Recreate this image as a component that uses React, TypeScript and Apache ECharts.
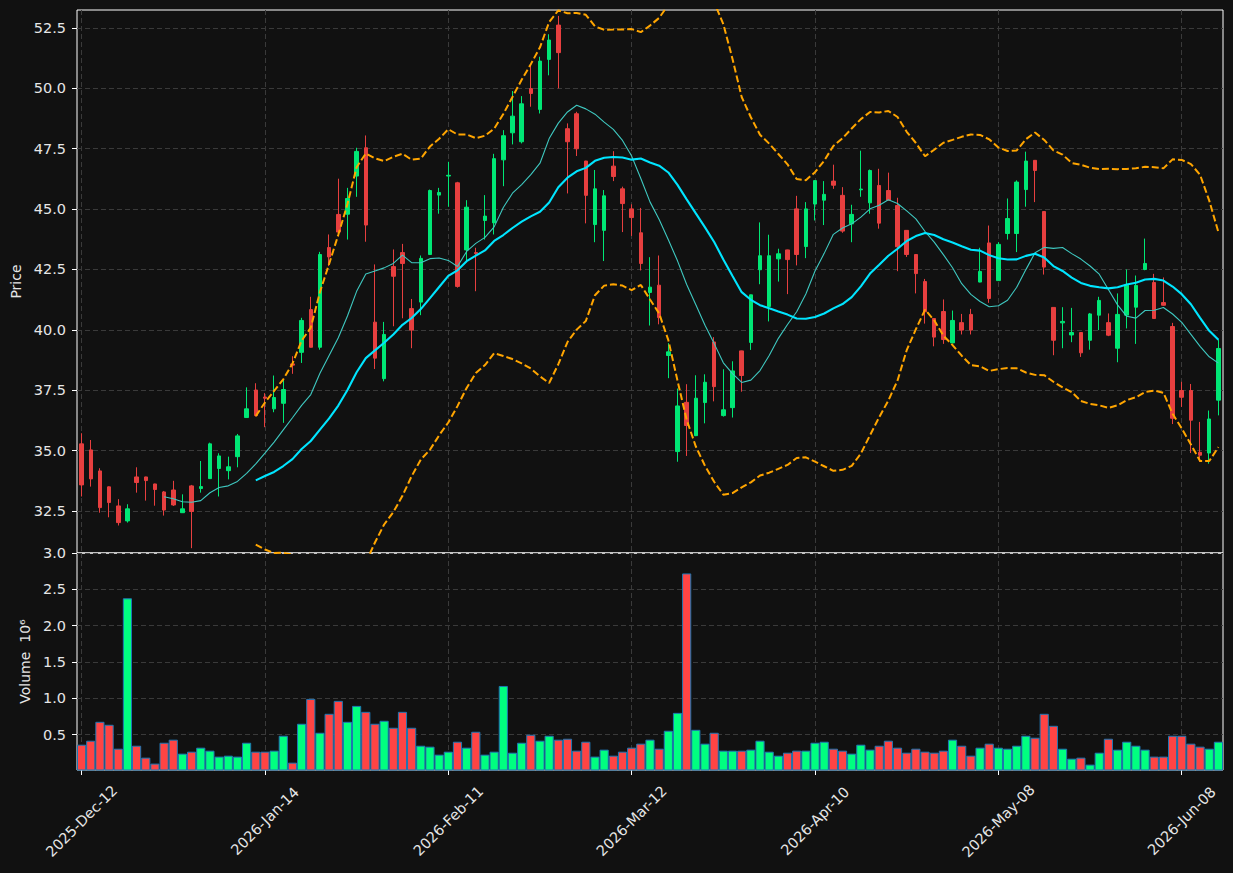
import React, { useEffect, useRef } from 'react';
import * as echarts from 'echarts';

// ---- data (prices in $, volume in millions) ----
const opens = [35.28, 35.03, 34.16, 33.50, 32.71, 32.09, 33.91, 33.91, 33.62, 33.29, 33.37, 32.43, 33.54, 33.43, 33.84, 34.26, 34.17, 34.75, 36.37, 37.51,
  37.22, 36.73, 36.96, 38.59, 39.07, 40.84, 39.28, 43.41, 44.78, 44.79, 46.37, 47.54, 40.32, 37.98, 42.62, 43.20, 40.88, 41.15, 43.12, 45.58,
  46.37, 46.09, 43.31, 43.20, 44.53, 44.43, 47.04, 48.16, 47.79, 49.99, 49.13, 51.20, 52.62, 48.33, 48.95, 46.99, 44.36, 44.12, 46.78, 45.84,
  45.01, 44.02, 41.55, 41.85, 38.94, 34.96, 37.00, 35.62, 36.99, 39.50, 36.45, 36.78, 39.13, 39.48, 42.49, 40.97, 42.94, 43.31, 45.01, 43.45,
  45.21, 45.37, 46.16, 45.57, 44.39, 45.80, 45.26, 45.98, 45.77, 45.15, 44.12, 43.12, 42.00, 40.47, 40.76, 39.46, 40.30, 40.64, 41.98, 43.60,
  42.04, 43.99, 43.99, 45.81, 47.02, 44.90, 40.93, 40.29, 39.79, 39.89, 39.57, 40.61, 40.30, 39.24, 40.61, 40.94, 42.50, 41.96, 41.13, 40.14,
  37.49, 37.49, 34.93, 34.90, 37.09];
const highs = [35.72, 35.44, 34.27, 33.52, 32.99, 32.78, 34.31, 33.92, 33.63, 33.33, 33.75, 33.19, 33.58, 34.57, 35.33, 34.89, 34.75, 35.69, 37.62, 37.79,
  37.38, 38.11, 37.94, 38.91, 40.50, 41.37, 43.23, 43.95, 46.26, 45.88, 47.54, 48.05, 42.71, 40.33, 43.33, 43.56, 41.28, 43.08, 45.81, 45.88,
  46.96, 46.13, 45.37, 43.40, 45.58, 47.29, 48.27, 49.89, 49.68, 50.97, 51.31, 52.24, 53.00, 48.55, 49.03, 47.00, 46.62, 45.79, 47.40, 45.93,
  45.20, 45.05, 43.01, 43.08, 39.45, 37.57, 37.75, 38.12, 38.16, 39.70, 38.37, 38.70, 39.14, 41.46, 44.45, 43.94, 43.36, 43.32, 45.55, 45.29,
  46.20, 46.16, 46.84, 45.91, 45.18, 47.42, 46.64, 46.67, 46.51, 45.47, 44.12, 43.12, 42.11, 40.47, 41.26, 40.80, 40.66, 40.87, 43.40, 44.32,
  43.63, 45.44, 46.19, 47.38, 47.03, 44.90, 40.93, 40.94, 40.91, 39.90, 40.70, 41.37, 40.68, 41.51, 42.50, 42.25, 43.78, 42.32, 42.17, 40.29,
  37.85, 37.76, 36.19, 36.66, 39.60];
const lows = [33.10, 33.51, 32.43, 32.24, 31.90, 32.02, 33.26, 32.93, 32.72, 32.31, 32.71, 32.42, 30.96, 33.26, 33.83, 33.10, 33.81, 34.31, 36.36, 36.41,
  35.97, 36.59, 36.15, 38.18, 38.63, 39.27, 39.18, 42.64, 43.88, 43.74, 45.51, 43.65, 38.38, 37.87, 40.15, 40.48, 39.24, 40.61, 43.11, 44.81,
  45.10, 41.75, 42.85, 41.60, 43.74, 43.95, 45.95, 47.68, 47.72, 49.24, 48.96, 50.54, 50.00, 45.65, 47.20, 44.41, 43.63, 42.85, 46.16, 44.05,
  43.89, 42.46, 40.18, 40.23, 38.00, 34.54, 34.78, 35.60, 36.13, 37.04, 36.41, 36.37, 37.44, 39.17, 41.89, 40.35, 42.00, 41.48, 42.67, 42.97,
  44.53, 44.34, 45.84, 44.02, 43.63, 45.51, 44.81, 44.19, 45.36, 42.43, 43.02, 41.51, 40.26, 39.32, 39.42, 39.45, 39.81, 39.81, 41.97, 41.12,
  42.04, 43.74, 43.22, 45.10, 45.29, 42.29, 38.95, 39.24, 39.49, 38.88, 39.18, 39.99, 39.74, 38.66, 40.06, 39.42, 42.47, 40.46, 41.00, 36.10,
  36.81, 34.90, 34.53, 34.46, 36.46];
const closes = [33.58, 33.83, 32.64, 32.85, 32.02, 32.59, 33.68, 33.76, 33.39, 32.54, 32.75, 32.59, 32.48, 33.51, 35.28, 34.78, 34.33, 35.61, 36.73, 36.45,
  37.17, 37.20, 37.53, 38.54, 40.39, 39.28, 43.12, 43.02, 44.05, 45.44, 47.39, 44.34, 38.83, 39.81, 42.22, 42.75, 39.99, 42.96, 45.77, 45.69,
  46.40, 41.80, 45.08, 43.16, 44.71, 47.09, 48.04, 48.85, 49.36, 49.79, 51.13, 52.00, 51.48, 47.79, 47.50, 45.57, 45.84, 45.55, 46.35, 45.23,
  44.65, 42.75, 41.77, 40.51, 39.09, 36.85, 36.04, 37.17, 37.83, 37.65, 36.69, 38.30, 38.11, 41.45, 43.07, 43.07, 43.15, 42.91, 43.12, 45.01,
  46.18, 45.61, 45.99, 44.09, 44.78, 45.83, 46.60, 44.42, 45.37, 43.44, 43.12, 42.33, 40.75, 39.70, 39.60, 40.39, 39.99, 39.99, 42.42, 41.30,
  43.54, 44.61, 46.12, 46.99, 46.60, 42.60, 39.57, 40.35, 39.89, 39.05, 40.66, 41.22, 39.78, 40.64, 41.85, 41.84, 42.75, 40.47, 41.02, 36.34,
  37.21, 36.26, 34.81, 36.31, 39.23];
const volumes = [0.363, 0.418, 0.678, 0.637, 0.308, 2.377, 0.349, 0.185, 0.103, 0.390, 0.432, 0.240, 0.267, 0.322, 0.281, 0.199, 0.212, 0.199, 0.390, 0.267,
  0.267, 0.281, 0.486, 0.116, 0.651, 0.993, 0.527, 0.788, 0.966, 0.678, 0.897, 0.815, 0.651, 0.692, 0.596, 0.815, 0.596, 0.349, 0.336, 0.226,
  0.267, 0.404, 0.322, 0.541, 0.226, 0.267, 1.171, 0.253, 0.390, 0.500, 0.418, 0.486, 0.432, 0.445, 0.281, 0.404, 0.199, 0.295, 0.212, 0.267,
  0.322, 0.377, 0.432, 0.308, 0.555, 0.801, 2.719, 0.568, 0.377, 0.527, 0.281, 0.281, 0.281, 0.295, 0.418, 0.267, 0.212, 0.253, 0.281, 0.281,
  0.390, 0.404, 0.308, 0.281, 0.240, 0.363, 0.295, 0.349, 0.418, 0.322, 0.253, 0.308, 0.267, 0.253, 0.281, 0.432, 0.349, 0.212, 0.322, 0.377,
  0.322, 0.308, 0.349, 0.486, 0.459, 0.788, 0.623, 0.308, 0.171, 0.185, 0.089, 0.253, 0.445, 0.295, 0.404, 0.349, 0.295, 0.199, 0.199, 0.486,
  0.486, 0.377, 0.336, 0.308, 0.404];

const priceTicks = [32.5, 35, 37.5, 40, 42.5, 45, 47.5, 50, 52.5];
const volumeTicks = [0.5, 1.0, 1.5, 2.0, 2.5, 3.0];
const firstDate = '2025-12-12';
const marketHolidays = ['2025-12-25', '2025-12-26', '2026-01-01', '2026-02-16', '2026-04-03', '2026-05-25'];
const MONTHS = ['Jan', 'Feb', 'Mar', 'Apr', 'May', 'Jun', 'Jul', 'Aug', 'Sep', 'Oct', 'Nov', 'Dec'];

function tradingDates(start: string, count: number, holidays: string[]): string[] {
  const out: string[] = [];
  const d = new Date(start + 'T00:00:00Z');
  while (out.length < count) {
    const iso = d.toISOString().slice(0, 10);
    const wd = d.getUTCDay();
    if (wd !== 0 && wd !== 6 && holidays.indexOf(iso) < 0) {
      out.push(`${d.getUTCFullYear()}-${MONTHS[d.getUTCMonth()]}-${String(d.getUTCDate()).padStart(2, '0')}`);
    }
    d.setUTCDate(d.getUTCDate() + 1);
  }
  return out;
}

function rollingMean(arr: number[], n: number): (number | null)[] {
  return arr.map((_, i) => {
    if (i < n - 1) return null;
    let s = 0;
    for (let j = i - n + 1; j <= i; j++) s += arr[j];
    return s / n;
  });
}

function rollingStd(arr: number[], n: number): (number | null)[] {
  return arr.map((_, i) => {
    if (i < n - 1) return null;
    let s = 0;
    for (let j = i - n + 1; j <= i; j++) s += arr[j];
    const m = s / n;
    let v = 0;
    for (let j = i - n + 1; j <= i; j++) v += (arr[j] - m) * (arr[j] - m);
    return Math.sqrt(v / n);
  });
}

const UP = '#00ff80';
const DOWN = '#ff4444';
const CANDLE_UP = '#00e775';
const CANDLE_DOWN = '#e73f3f';
const TEXT = '#e6e6e6';
const GRID_LINE = '#3a3a3a';
const FONT = 'DejaVu Sans';

export default function App() {
  const ref = useRef<HTMLDivElement>(null);

  useEffect(() => {
    if (!ref.current) return;
    const chart = echarts.init(ref.current, null, { renderer: 'svg' });
    const dates = tradingDates(firstDate, closes.length, marketHolidays);
    const ma10 = rollingMean(closes, 10);
    const ma20 = rollingMean(closes, 20);
    const sd20 = rollingStd(closes, 20);
    const upper = ma20.map((m, i) => (m == null ? null : m + 2 * (sd20[i] as number)));
    const lower = ma20.map((m, i) => (m == null ? null : m - 2 * (sd20[i] as number)));
    const candles = opens.map((o, i) => [o, closes[i], lows[i], highs[i]]);
    const volData = volumes.map((v, i) => ({
      value: v,
      itemStyle: { color: closes[i] >= opens[i] ? UP : DOWN },
    }));

    const splitLine = {
      show: true,
      interval: 19,
      alignWithLabel: true,
      lineStyle: { color: GRID_LINE, type: [5, 3], width: 1 },
    };
    const ySplit = { show: true, lineStyle: { color: GRID_LINE, type: [5, 3], width: 1 } };
    const lineBase = { type: 'line', xAxisIndex: 0, yAxisIndex: 0, showSymbol: false, symbol: 'none', connectNulls: false, z: 3 };

    chart.setOption({
      animation: false,
      backgroundColor: '#111111',
      textStyle: { fontFamily: FONT },
      grid: [
        { left: 77, right: 10, top: 10, height: 543, show: true, borderColor: '#ffffff', borderWidth: 1, backgroundColor: 'transparent' },
        { left: 77, right: 10, top: 553, height: 217, show: true, borderColor: '#ffffff', borderWidth: 1, backgroundColor: 'transparent' },
      ],
      xAxis: [
        {
          type: 'category', gridIndex: 0, data: dates, boundaryGap: true,
          axisLine: { show: false }, axisTick: { show: false }, axisLabel: { show: false },
          splitLine,
        },
        {
          type: 'category', gridIndex: 1, data: dates, boundaryGap: true,
          axisLine: { show: false },
          axisTick: { show: true, interval: 19, alignWithLabel: true, length: 5, lineStyle: { color: '#ffffff' } },
          axisLabel: {
            interval: 19, rotate: 45, align: 'center', verticalAlign: 'middle', margin: 51,
            color: TEXT, fontSize: 14.5, fontFamily: FONT,
          },
          splitLine,
        },
      ],
      yAxis: [
        {
          type: 'value', gridIndex: 0, min: 30.761, max: 53.245, scale: true,
          name: 'Price', nameLocation: 'middle', nameGap: 51,
          nameTextStyle: { color: TEXT, fontSize: 14, fontFamily: FONT },
          axisLine: { show: false },
          axisTick: { show: true, length: 5, customValues: priceTicks, lineStyle: { color: '#ffffff' } },
          axisLabel: { customValues: priceTicks, color: TEXT, fontSize: 14.5, fontFamily: FONT, margin: 11, formatter: (v: number) => v.toFixed(1) },
          splitLine: ySplit,
        },
        {
          type: 'value', gridIndex: 1, min: 0.015, max: 3.0,
          name: 'Volume  10⁶', nameLocation: 'middle', nameGap: 44,
          nameTextStyle: { color: TEXT, fontSize: 14, fontFamily: FONT },
          axisLine: { show: false },
          axisTick: { show: true, length: 5, customValues: volumeTicks, lineStyle: { color: '#ffffff' } },
          axisLabel: { customValues: volumeTicks, color: TEXT, fontSize: 14.5, fontFamily: FONT, margin: 11, formatter: (v: number) => v.toFixed(1) },
          splitLine: ySplit,
        },
      ],
      series: [
        {
          type: 'candlestick', xAxisIndex: 0, yAxisIndex: 0, data: candles, barWidth: 4, z: 2,
          itemStyle: { color: CANDLE_UP, color0: CANDLE_DOWN, borderColor: CANDLE_UP, borderColor0: CANDLE_DOWN, borderWidth: 1 },
        },
        { ...lineBase, name: 'MA10', data: ma10, lineStyle: { color: '#3fc8c0', width: 1.1 } },
        { ...lineBase, name: 'MA20', data: ma20, lineStyle: { color: '#00e5ff', width: 2.1 } },
        { ...lineBase, name: 'Upper', data: upper, lineStyle: { color: '#ffa500', width: 2, type: [7, 3] } },
        { ...lineBase, name: 'Lower', data: lower, lineStyle: { color: '#ffa500', width: 2, type: [7, 3] } },
        {
          type: 'bar', xAxisIndex: 1, yAxisIndex: 1, data: volData, barCategoryGap: '0%',
          itemStyle: { borderColor: '#1f77b4', borderWidth: 1 },
        },
      ],
    });
    return () => chart.dispose();
  }, []);

  return (
    <div
      ref={ref}
      style={{ position: 'fixed', left: 0, top: 0, width: 1233, height: 873, background: '#111111' }}
    />
  );
}
